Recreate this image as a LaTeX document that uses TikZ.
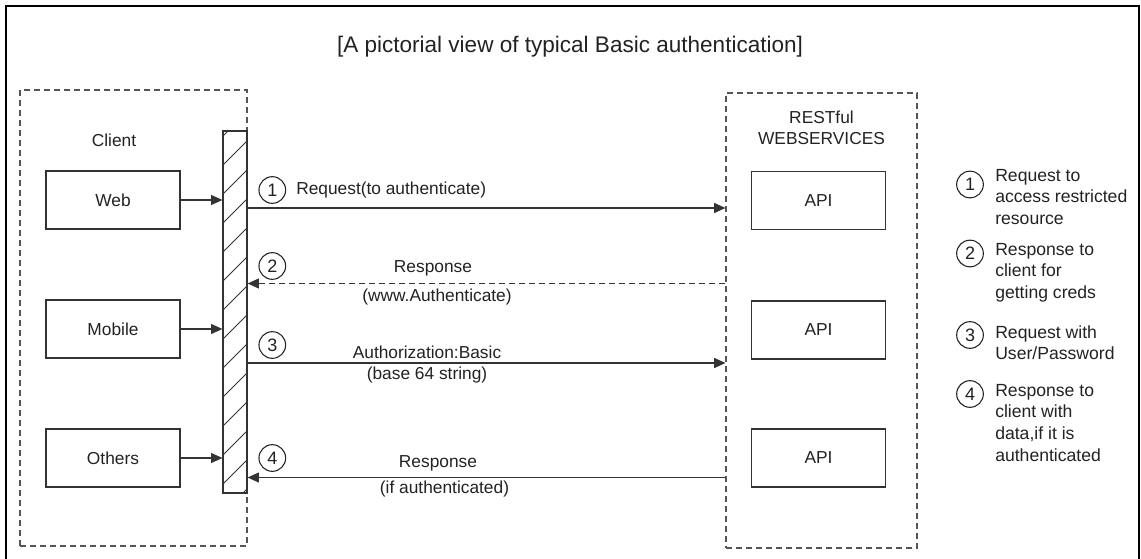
\documentclass[tikz,border=0pt]{standalone}
\usepackage{fontspec}
\setmainfont{Liberation Sans}
\usetikzlibrary{arrows.meta}
\definecolor{ink}{HTML}{222222}
\definecolor{linec}{HTML}{333333}
\definecolor{dashc}{HTML}{555555}
\begin{document}
\begin{tikzpicture}[x=0.75pt,y=-0.75pt,
  txt/.style={text=ink,font=\fontsize{13}{15}\selectfont,inner sep=0pt},
  box/.style={draw=linec,line width=0.9pt,minimum width=100.5pt,minimum height=43.5pt,inner sep=0pt,text=ink,font=\fontsize{13}{15}\selectfont},
  group/.style={draw=dashc,line width=0.8pt,dash pattern=on 4.5pt off 3pt,inner sep=0pt},
  num/.style={circle,draw=ink,line width=0.8pt,minimum size=20pt,inner sep=0pt,text=ink,font=\fontsize{13.5}{15}\selectfont},
  arr/.style={draw=linec,line width=0.8pt,-{Triangle[length=8.5pt,width=7.5pt]}},
  legend/.style={txt,align=left,anchor=north west,font=\fontsize{13.2}{16.2}\selectfont}
]
\useasboundingbox (0,0) rectangle (1141,559);
\begin{scope}
\clip (0,0) rectangle (1141,559);
\draw[black,line width=2pt] (6,6) rectangle (1139,575);
\end{scope}

% title
\node[txt,font=\fontsize{16.9}{19}\selectfont] (title) at (570,47) {[A pictorial view of typical Basic authentication]};

% groups
\node[group,minimum width=170.25pt,minimum height=342pt] (client) at (133.5,318) {};
\node[group,minimum width=143.25pt,minimum height=341.25pt] (rest) at (821.5,320.5) {};
\node[txt] (clientlbl) at (114,140) {Client};
\node[txt,align=center,font=\fontsize{13}{16}\selectfont] (restlbl) at (821.5,127.5) {RESTful\\WEBSERVICES};

% hatched bar
\node[draw=linec,line width=0.9pt,minimum width=18pt,minimum height=271.5pt,inner sep=0pt] (bar) at (235,312) {};
\begin{scope}
\clip (223,131) rectangle (247,493);
\foreach \k in {-1,...,12} {
  \draw[linec,line width=0.7pt] (223,165+29*\k) -- (247,141+29*\k);
}
\end{scope}

% client boxes
\node[box] (web) at (113,200) {Web};
\node[box] (mobile) at (113,329) {Mobile};
\node[box] (others) at (113,458) {Others};
\draw[arr] (web.east) -- (web.east -| bar.west);
\draw[arr] (mobile.east) -- (mobile.east -| bar.west);
\draw[arr] (others.east) -- (others.east -| bar.west);

% API boxes
\node[box,minimum width=100pt] (api1) at (818.5,200.5) {API};
\node[box,minimum width=100pt] (api2) at (818.5,330) {API};
\node[box,minimum width=100pt] (api3) at (818.5,458) {API};

% message levels
\coordinate (m1) at (0,208);
\coordinate (m2) at (0,283.5);
\coordinate (m3) at (0,363);
\coordinate (m4) at (0,477.5);
\draw[arr] (m1 -| bar.east) -- (m1 -| rest.west);
\draw[arr,dash pattern=on 4.5pt off 3pt] (m2 -| rest.west) -- (m2 -| bar.east);
\draw[arr] (m3 -| bar.east) -- (m3 -| rest.west);
\draw[arr] (m4 -| rest.west) -- (m4 -| bar.east);

\node[num] (n1) at (272.3,190) {1};
\node[num] (n2) at (272.3,266) {2};
\node[num] (n3) at (272.3,345) {3};
\node[num] (n4) at (272.3,458) {4};

\node[txt,anchor=west] (l1) at (296,190) {Request(to authenticate)};
\node[txt] (l2a) at (433,268) {Response};
\node[txt] (l2b) at (437,297) {(www.Authenticate)};
\node[txt] (l3a) at (427,352) {Authorization:Basic};
\node[txt] (l3b) at (427,375) {(base 64 string)};
\node[txt] (l4a) at (438,463) {Response};
\node[txt] (l4b) at (444.5,489) {(if authenticated)};

% legend
\node[num] (k1) at (970,184.5) {1};
\node[num] (k2) at (970,253.5) {2};
\node[num] (k3) at (970,335) {3};
\node[num] (k4) at (970,394) {4};
\node[legend] (t1) at (995,169) {Request to\\access restricted\\resource};
\node[legend] (t2) at (995,243) {Response to\\client for\\getting creds};
\node[legend] (t3) at (995,325) {Request with\\User/Password};
\node[legend] (t4) at (995,384) {Response to\\client with\\data,if it is\\authenticated};
\end{tikzpicture}
\end{document}
